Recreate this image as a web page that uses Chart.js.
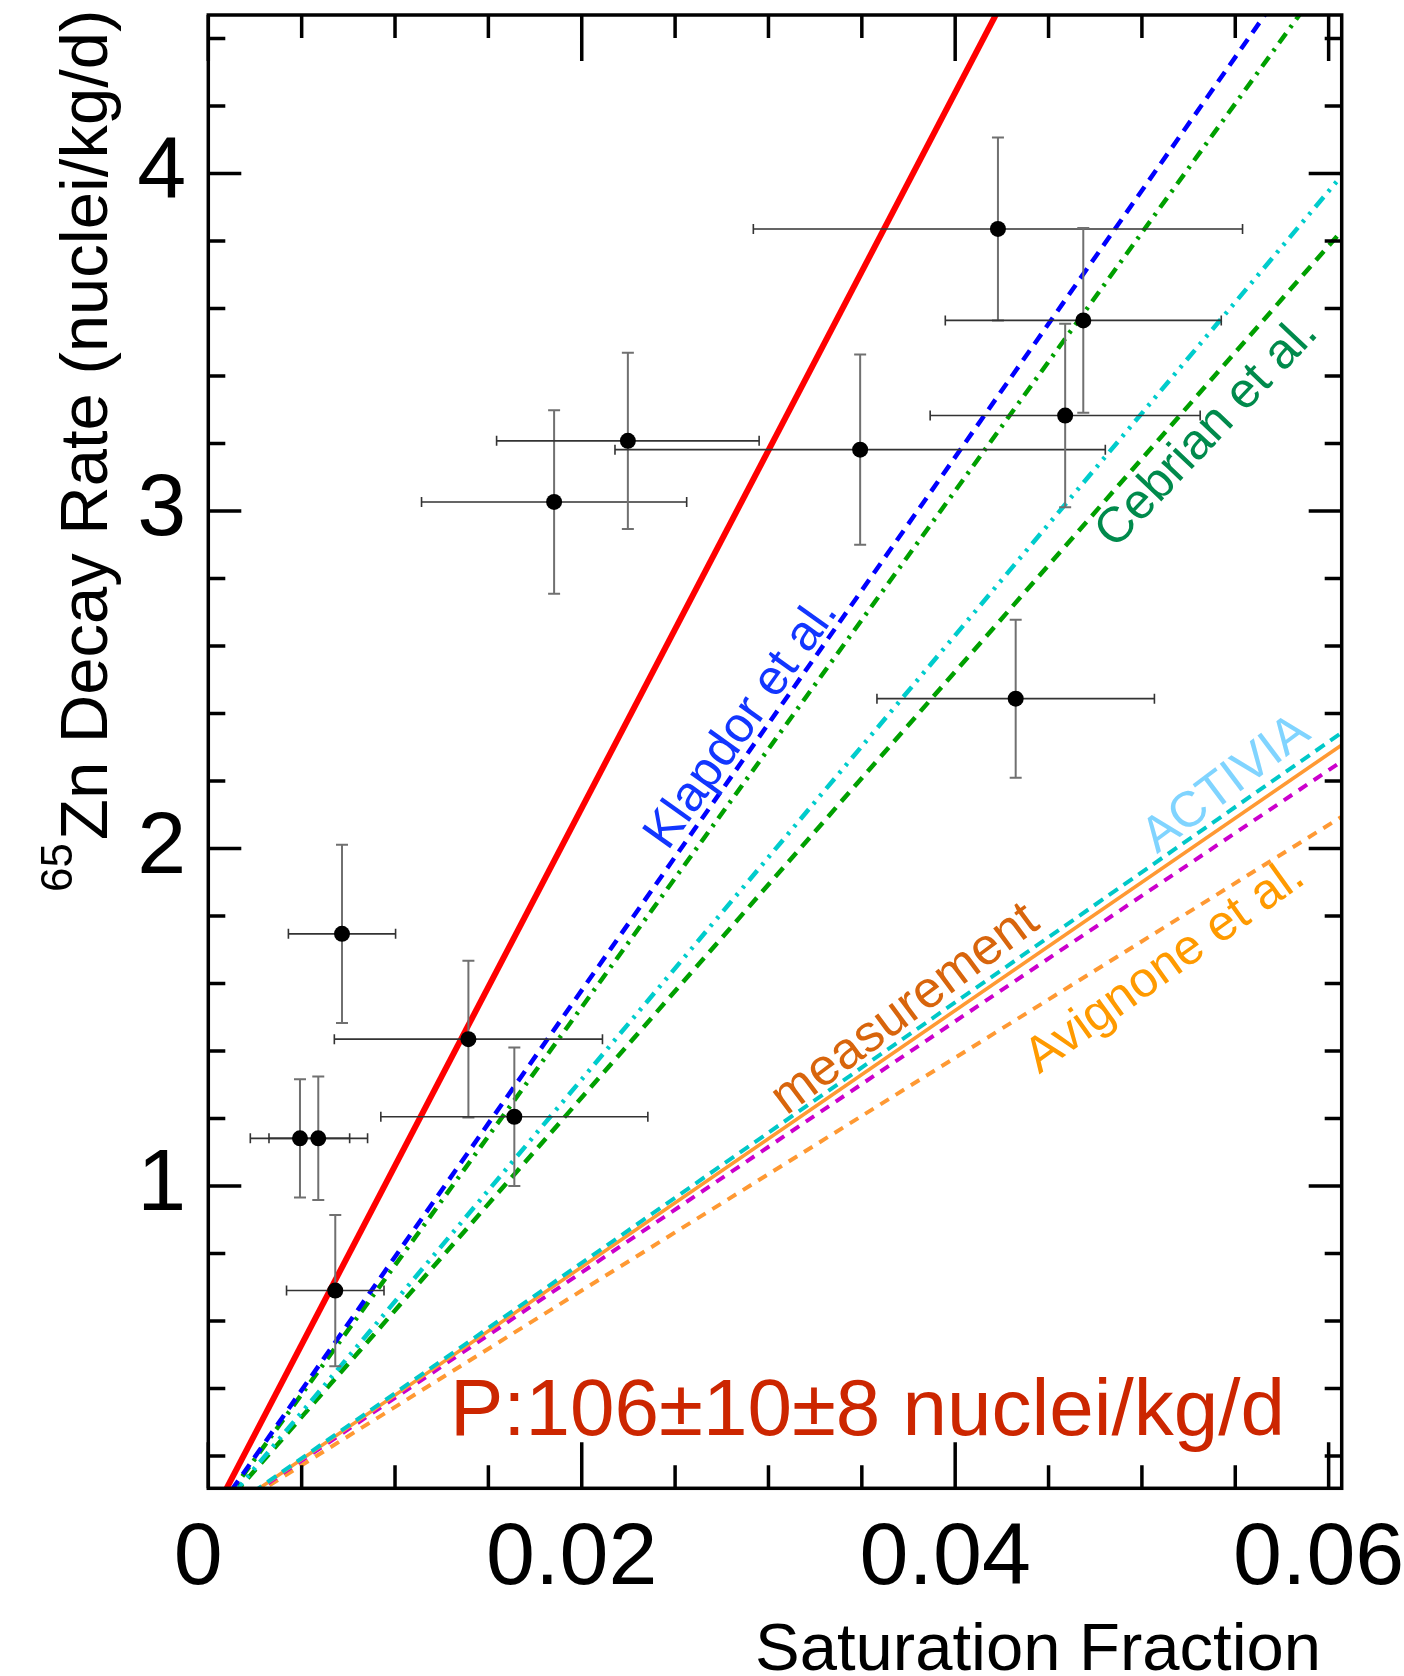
<!DOCTYPE html>
<html>
<head>
<meta charset="utf-8">
<script src="https://cdn.jsdelivr.net/npm/chart.js@4.4.1/dist/chart.umd.min.js"></script>
<style>
  html, body { margin: 0; padding: 0; background: #fff; }
  #wrap { width: 1404px; height: 1676px; }
</style>
</head>
<body>
<div id="wrap"><canvas id="zincChart" width="1404" height="1676"></canvas></div>
<script>
// Measured points (saturation fraction vs 65Zn decay rate)
const satFraction = [0.00491, 0.00589, 0.00680, 0.00716, 0.01393, 0.01639, 0.01852, 0.02247, 0.03491, 0.04229, 0.04324, 0.04589, 0.04686];
const satFractionErr = [0.00266, 0.00264, 0.00261, 0.00287, 0.00718, 0.00715, 0.00710, 0.00703, 0.01313, 0.01310, 0.00743, 0.00723, 0.00739];
const decayRate = [1.141, 1.141, 0.690, 1.747, 1.435, 1.205, 3.027, 3.208, 3.182, 3.836, 2.444, 3.283, 3.565];
const decayRateErr = [0.175, 0.183, 0.224, 0.264, 0.232, 0.205, 0.272, 0.261, 0.282, 0.271, 0.234, 0.272, 0.274];

// Production rates (nuclei/kg/d) -> straight lines rate * fraction
const modelNames = ['fit', 'Klapdor et al.', 'dash-dot model', 'dash-dot-dot model', 'Cebrian et al.', 'ACTIVIA', 'measurement', 'dashed model', 'Avignone et al.'];
const modelRates = [106, 79.0, 76.5, 65.8, 63.1, 38.6, 38.0, 37.2, 34.5];
const modelSpan = [0, 0.0607];

// axes
const xTicks = [0, 0.02, 0.04, 0.06];
const xTickLabels = ['0', '0.02', '0.04', '0.06'];
const yTicks = [1, 2, 3, 4];
const yTickLabels = ['1', '2', '3', '4'];

const FONT = '"Liberation Sans", Arial, Helvetica, sans-serif';

const lineStyles = [
    { color: '#ff0000', width: 6, dash: [] },
    { color: '#0000ff', width: 4.5, dash: [12, 8] },
    { color: '#00a000', width: 4.5, dash: [12, 7, 3, 7] },
    { color: '#00cccc', width: 4.5, dash: [13, 7, 3, 7, 3, 7] },
    { color: '#00a000', width: 4.5, dash: [12, 8] },
    { color: '#00c8c8', width: 4, dash: [11, 7] },
    { color: '#ff9933', width: 3.5, dash: [] },
    { color: '#cc00cc', width: 4, dash: [10, 8] },
    { color: '#ff9933', width: 4, dash: [10, 8] }
];

// curve labels, placed in data coordinates
const curveLabels = [
    { text: 'Klapdor et al.', color: '#1236ff', x: 0.02859, y: 2.370, angle: 54.5, size: 50 },
    { text: 'Cebrian et al.', color: '#008a4c', x: 0.0535, y: 3.232, angle: 46.5, size: 50 },
    { text: 'ACTIVIA', color: '#80d4ff', x: 0.05452, y: 2.189, angle: 37, size: 50 },
    { text: 'measurement', color: '#d8650c', x: 0.03733, y: 1.522, angle: 36.6, size: 52 },
    { text: 'Avignone et al.', color: '#ff9a00', x: 0.05125, y: 1.649, angle: 35.7, size: 50 }
];

const errorBarPlugin = {
    id: 'errorBars',
    beforeDatasetDraw(chart, args) {
        if (args.index !== 0) return;
        const { ctx, scales: { x, y } } = chart;
        ctx.save();
        for (let i = 0; i < satFraction.length; i++) {
            const px = x.getPixelForValue(satFraction[i]);
            const py = y.getPixelForValue(decayRate[i]);
            const x0 = x.getPixelForValue(satFraction[i] - satFractionErr[i]);
            const x1 = x.getPixelForValue(satFraction[i] + satFractionErr[i]);
            const y0 = y.getPixelForValue(decayRate[i] - decayRateErr[i]);
            const y1 = y.getPixelForValue(decayRate[i] + decayRateErr[i]);

            ctx.strokeStyle = '#333';
            ctx.lineWidth = 1.6;
            ctx.beginPath();
            ctx.moveTo(x0, py); ctx.lineTo(x1, py);
            ctx.moveTo(x0, py - 5); ctx.lineTo(x0, py + 5);
            ctx.moveTo(x1, py - 5); ctx.lineTo(x1, py + 5);
            ctx.stroke();

            ctx.strokeStyle = '#707070';
            ctx.lineWidth = 2;
            ctx.beginPath();
            ctx.moveTo(px, y0); ctx.lineTo(px, y1);
            ctx.moveTo(px - 6, y0); ctx.lineTo(px + 6, y0);
            ctx.moveTo(px - 6, y1); ctx.lineTo(px + 6, y1);
            ctx.stroke();
        }
        ctx.restore();
    }
};

// box + inward ticks like IDL
const framePlugin = {
    id: 'frame',
    afterDatasetsDraw(chart) {
        const { ctx, chartArea: a, scales: { x, y } } = chart;
        ctx.save();
        ctx.strokeStyle = '#000';
        ctx.lineWidth = 3.5;
        ctx.beginPath();
        for (let k = 0; k * 0.005 <= x.max + 1e-9; k++) {
            const px = x.getPixelForValue(k * 0.005);
            const len = k % 4 === 0 ? 46 : 23;
            ctx.moveTo(px, a.bottom); ctx.lineTo(px, a.bottom - len);
            ctx.moveTo(px, a.top); ctx.lineTo(px, a.top + len);
        }
        for (let k = Math.ceil(y.min / 0.2 - 1e-9); k * 0.2 <= y.max + 1e-9; k++) {
            const py = y.getPixelForValue(k * 0.2);
            const len = k % 5 === 0 ? 33 : 17;
            ctx.moveTo(a.left, py); ctx.lineTo(a.left + len, py);
            ctx.moveTo(a.right, py); ctx.lineTo(a.right - len, py);
        }
        ctx.stroke();
        ctx.strokeRect(a.left, a.top, a.right - a.left, a.bottom - a.top);
        ctx.restore();
    }
};

const textPlugin = {
    id: 'texts',
    afterDraw(chart) {
        const { ctx, scales: { x, y } } = chart;
        ctx.save();

        // curve labels
        curveLabels.forEach(function(l) {
            ctx.save();
            ctx.translate(x.getPixelForValue(l.x), y.getPixelForValue(l.y));
            ctx.rotate(-l.angle * Math.PI / 180);
            ctx.font = l.size + 'px ' + FONT;
            ctx.fillStyle = l.color;
            ctx.textAlign = 'center';
            ctx.textBaseline = 'middle';
            ctx.fillText(l.text, 0, 0);
            ctx.restore();
        });

        // fit result
        ctx.font = '80px ' + FONT;
        ctx.fillStyle = '#cc2600';
        ctx.textAlign = 'left';
        ctx.textBaseline = 'alphabetic';
        ctx.fillText('P:106\u00b110\u00b18 nuclei/kg/d', 450, 1435);

        // x title
        ctx.fillStyle = '#000';
        ctx.font = '67px ' + FONT;
        ctx.fillText('Saturation Fraction', 755, 1670);

        // y title with superscript
        ctx.save();
        ctx.translate(107, 840);
        ctx.rotate(-Math.PI / 2);
        ctx.font = '67px ' + FONT;
        ctx.textAlign = 'left';
        ctx.fillText('Zn Decay Rate (nuclei/kg/d)', 0, 0);
        ctx.font = '44px ' + FONT;
        ctx.textAlign = 'right';
        ctx.fillText('65', -3, -35);
        ctx.restore();

        ctx.restore();
    }
};

const datasets = [{
    label: 'data',
    data: satFraction.map((f, i) => ({ x: f, y: decayRate[i] })),
    showLine: false,
    pointRadius: 8,
    pointBackgroundColor: '#000',
    pointBorderWidth: 0
}];

modelRates.forEach(function(rate, i) {
    datasets.push({
        label: modelNames[i],
        data: modelSpan.map(f => ({ x: f, y: rate * f })),
        showLine: true,
        pointRadius: 0,
        borderColor: lineStyles[i].color,
        borderWidth: lineStyles[i].width,
        borderDash: lineStyles[i].dash,
        fill: false
    });
});

new Chart(document.getElementById('zincChart'), {
    type: 'scatter',
    data: { datasets: datasets },
    options: {
        responsive: false,
        animation: false,
        events: [],
        layout: { padding: { top: 15, right: 62.3, left: 0, bottom: 0 } },
        plugins: {
            legend: { display: false },
            tooltip: { enabled: false }
        },
        scales: {
            x: {
                type: 'linear',
                min: 0,
                max: 0.0607,
                grid: { display: false, drawTicks: false },
                border: { display: false },
                afterBuildTicks: function(s) { s.ticks = xTicks.map(v => ({ value: v })); },
                afterFit: function(s) { s.height = 187.7; s.paddingLeft = 0; s.paddingRight = 0; },
                ticks: {
                    font: { family: FONT, size: 88 },
                    color: '#000',
                    padding: 19,
                    labelOffset: -10,
                    maxRotation: 0,
                    autoSkip: false,
                    callback: function(v, i) { return xTickLabels[i]; }
                }
            },
            y: {
                type: 'linear',
                min: 0.104,
                max: 4.47,
                grid: { display: false, drawTicks: false },
                border: { display: false },
                afterBuildTicks: function(s) { s.ticks = yTicks.map(v => ({ value: v })); },
                afterFit: function(s) { s.width = 208.3; s.paddingTop = 0; s.paddingBottom = 0; },
                ticks: {
                    font: { family: FONT, size: 88 },
                    color: '#000',
                    padding: 22,
                    autoSkip: false,
                    callback: function(v, i) { return yTickLabels[i]; }
                }
            }
        }
    },
    plugins: [errorBarPlugin, framePlugin, textPlugin]
});
</script>
</body>
</html>
